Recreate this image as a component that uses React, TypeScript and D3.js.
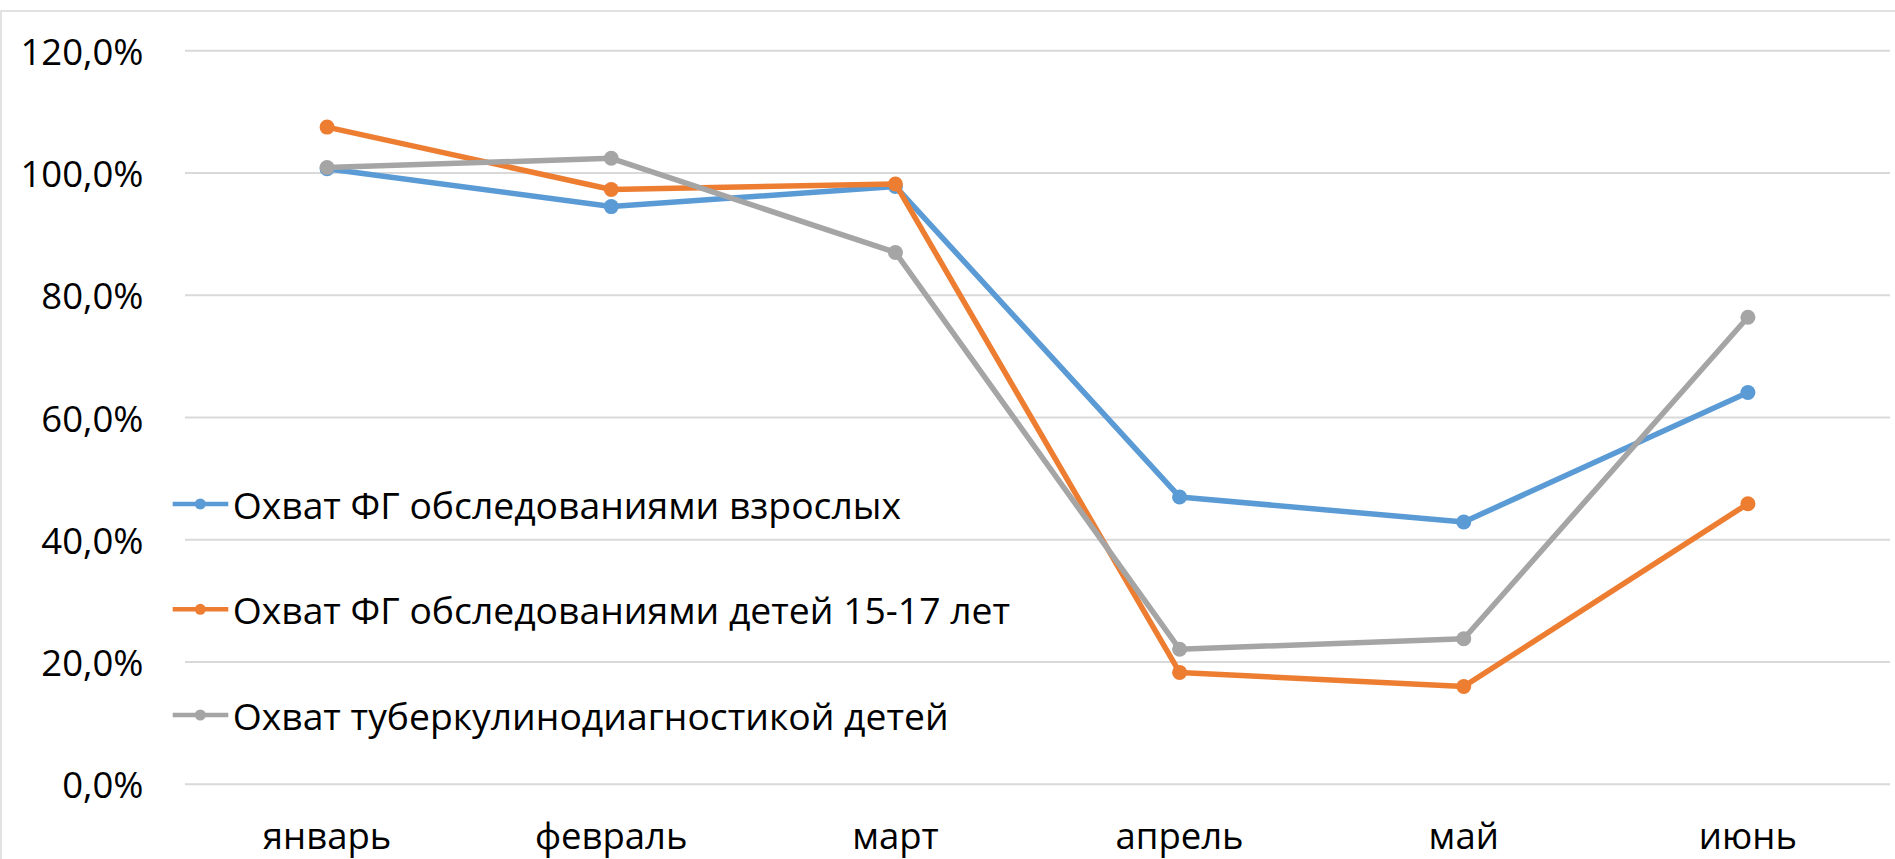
import React from "react";
import * as d3 from "d3";

const categories = ["январь", "февраль", "март", "апрель", "май", "июнь"];
const seriesNames = [
  "Охват ФГ обследованиями взрослых",
  "Охват ФГ обследованиями детей 15-17 лет",
  "Охват туберкулинодиагностикой детей",
];
const adults = [100.7, 94.5, 97.8, 47.0, 42.9, 64.1];
const teens = [107.5, 97.3, 98.2, 18.3, 16.0, 45.9];
const tuberculin = [100.9, 102.4, 87.0, 22.1, 23.8, 76.4];
const yTicks = [0, 20, 40, 60, 80, 100, 120];
const colors = ["#5B9BD5", "#ED7D31", "#A5A5A5"];

const W = 1895;
const H = 859;
const plotLeft = 185;
const plotRight = 1890;
const yTop = 50.7;
const yBottom = 784.3;
const FONT = "'Open Sans', sans-serif";

export default function App() {
  const x = d3.scaleBand<string>().domain(categories).range([plotLeft, plotRight]);
  const y = d3.scaleLinear().domain([0, 120]).range([yBottom, yTop]);
  const cx = (c: string) => (x(c) as number) + x.bandwidth() / 2;
  const data = [adults, teens, tuberculin];
  const line = d3
    .line<number>()
    .x((_, i) => cx(categories[i]))
    .y((v) => y(v));
  const fmt = (v: number) => v.toFixed(1).replace(".", ",") + "%";
  const legendY = [504, 609.3, 715];

  return (
    <svg
      width={W}
      height={H}
      style={{ position: "absolute", left: 0, top: 0, display: "block" }}
      fontFamily={FONT}
    >
      <rect x={0} y={0} width={W} height={H} fill="#fff" />
      <rect x={1} y={11} width={W + 10} height={H + 10} fill="none" stroke="#d9d9d9" strokeWidth={1.5} />
      {yTicks.map((t) => (
        <g key={t}>
          <line x1={plotLeft} x2={plotRight} y1={y(t)} y2={y(t)} stroke="#d9d9d9" strokeWidth={2} />
          <text x={143.5} y={y(t)} textAnchor="end" dominantBaseline="central" fontSize={36.5} fill="#000">
            {fmt(t)}
          </text>
        </g>
      ))}
      {categories.map((c) => (
        <text key={c} x={cx(c)} y={849} textAnchor="middle" fontSize={36.5} fill="#000">
          {c}
        </text>
      ))}
      {data.map((vals, si) => (
        <g key={si}>
          <path d={line(vals) || ""} fill="none" stroke={colors[si]} strokeWidth={5.5} strokeLinejoin="round" />
          {vals.map((v, i) => (
            <circle key={i} cx={cx(categories[i])} cy={y(v)} r={7.5} fill={colors[si]} />
          ))}
        </g>
      ))}
      {seriesNames.map((n, i) => (
        <g key={n}>
          <line x1={172.7} x2={228.3} y1={legendY[i]} y2={legendY[i]} stroke={colors[i]} strokeWidth={4.5} />
          <circle cx={200.3} cy={legendY[i]} r={5.5} fill={colors[i]} />
          <text x={232.7} y={legendY[i]} dominantBaseline="central" fontSize={37.3} fill="#000">
            {n}
          </text>
        </g>
      ))}
    </svg>
  );
}
